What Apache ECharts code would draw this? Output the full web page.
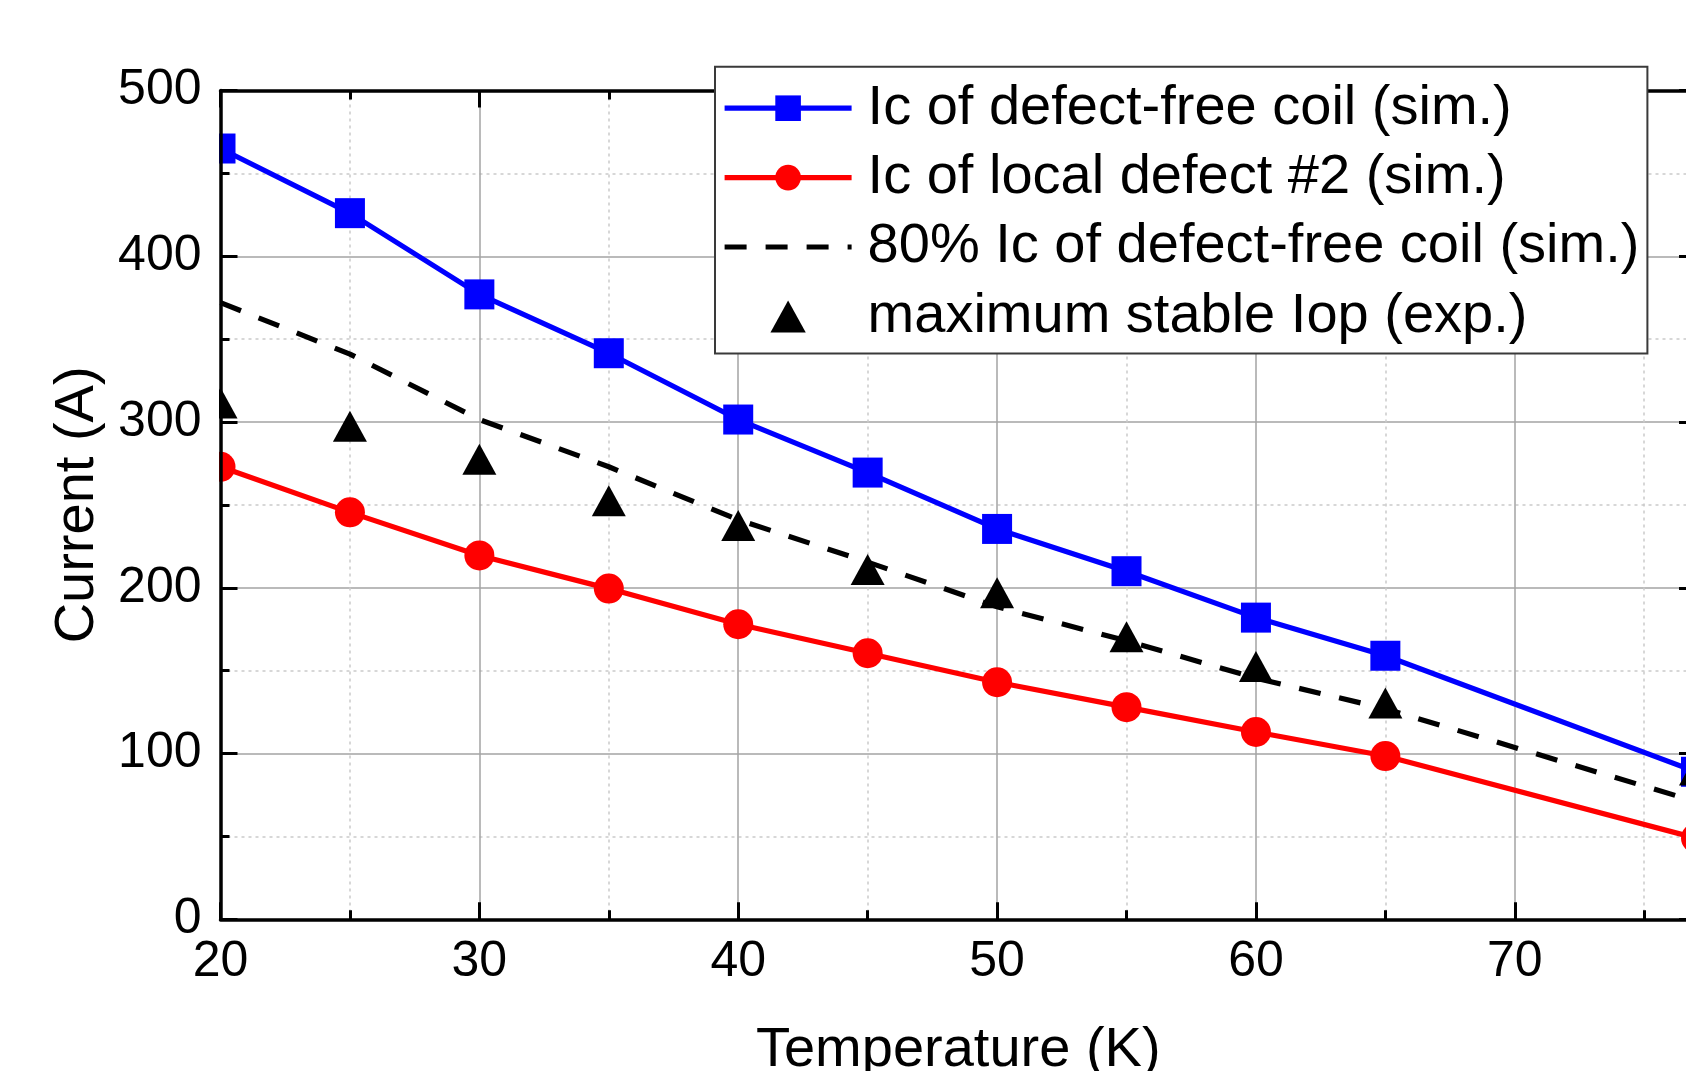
<!DOCTYPE html>
<html><head><meta charset="utf-8">
<script src="https://cdn.jsdelivr.net/npm/echarts@6/dist/echarts.min.js"></script>
<style>html,body{margin:0;padding:0;background:#fff}#c{width:1686px;height:1071px}</style>
</head><body><div id="c"></div>
<script>
// ---- data ----
const temperatures = [20, 25, 30, 35, 40, 45, 50, 55, 60, 65, 77];
const icDefectFree = [465, 426, 377, 341.5, 301.5, 269.5, 235.5, 210, 182, 159, 89];
const icLocalDefect2 = [273, 245.5, 219.5, 199.5, 178, 160.5, 143, 128, 113, 98.5, 49];
const ic80DefectFree = [372, 341, 301.5, 273, 241, 215.5, 188.5, 168, 145.5, 127, 71];
const maxStableIop = [311.5, 297.5, 277.5, 252.5, 237.5, 211, 197, 170.5, 152.5, 130.5, 90];
const seriesNames = [
  'Ic of defect-free coil (sim.)',
  'Ic of local defect #2 (sim.)',
  '80% Ic of defect-free coil (sim.)',
  'maximum stable Iop (exp.)'
];
const xTitle = 'Temperature (K)';
const yTitle = 'Current (A)';

const FONT = '"Liberation Sans", Arial, sans-serif';
const LW = 5.2;
const TRI = 'path://M16,0 L32,29 L0,29 Z';
const pairs = ys => temperatures.map((t, i) => [t, ys[i]]);

const chart = echarts.init(document.getElementById('c'), null, {renderer: 'canvas'});

const tickStyle = {color: '#000', width: 3};
const axisLineStyle = {color: '#000', width: 3.5};

const xBase = {type: 'value', min: 20, max: 77, interval: 10, gridIndex: 0};
const yBase = {type: 'value', min: 0, max: 500, interval: 100, gridIndex: 0};

const option = {
  animation: false,
  backgroundColor: '#fff',
  grid: {left: 220.5, top: 90.5, right: -10, bottom: 151.7, containLabel: false, outerBoundsMode: 'none'},
  xAxis: [
    Object.assign({}, xBase, {
      position: 'bottom', z: 0,
      axisLine: {show: false}, axisTick: {show: false}, axisLabel: {show: false},
      minorTick: {show: false, splitNumber: 2},
      splitLine: {show: true, lineStyle: {color: '#a3a3a3', width: 1.5}},
      minorSplitLine: {show: true, lineStyle: {color: '#cacaca', width: 1.5, type: [3, 4]}}
    }),
    Object.assign({}, xBase, {
      position: 'bottom', z: 10,
      name: xTitle, nameLocation: 'middle', nameGap: 103, nameMoveOverlap: false,
      nameTextStyle: {fontSize: 56, lineHeight: 56, color: '#000', fontFamily: FONT},
      axisLine: {show: true, onZero: false, lineStyle: axisLineStyle},
      axisTick: {show: true, inside: true, length: 17, lineStyle: tickStyle},
      minorTick: {show: true, splitNumber: 2, length: 9, lineStyle: tickStyle},
      axisLabel: {show: true, fontSize: 50, lineHeight: 50, color: '#000', margin: 18, fontFamily: FONT, showMaxLabel: false},
      splitLine: {show: false}
    }),
    Object.assign({}, xBase, {
      position: 'top', z: 10,
      axisLine: {show: true, onZero: false, lineStyle: axisLineStyle},
      axisTick: {show: true, inside: true, length: 17, lineStyle: tickStyle},
      minorTick: {show: true, splitNumber: 2, length: 9, lineStyle: tickStyle},
      axisLabel: {show: false},
      splitLine: {show: false}
    })
  ],
  yAxis: [
    Object.assign({}, yBase, {
      position: 'left', z: 0,
      axisLine: {show: false}, axisTick: {show: false}, axisLabel: {show: false},
      minorTick: {show: false, splitNumber: 2},
      splitLine: {show: true, lineStyle: {color: '#a3a3a3', width: 1.5}},
      minorSplitLine: {show: true, lineStyle: {color: '#cacaca', width: 1.5, type: [3, 4]}}
    }),
    Object.assign({}, yBase, {
      position: 'left', z: 10,
      name: yTitle, nameLocation: 'middle', nameGap: 115, nameMoveOverlap: false,
      nameTextStyle: {fontSize: 56, lineHeight: 56, color: '#000', fontFamily: FONT},
      axisLine: {show: true, onZero: false, lineStyle: axisLineStyle},
      axisTick: {show: true, inside: true, length: 17, lineStyle: tickStyle},
      minorTick: {show: true, splitNumber: 2, length: 9, lineStyle: tickStyle},
      axisLabel: {show: true, fontSize: 50, lineHeight: 50, color: '#000', margin: 19, fontFamily: FONT},
      splitLine: {show: false}
    }),
    Object.assign({}, yBase, {
      position: 'right', z: 10,
      axisLine: {show: true, onZero: false, lineStyle: axisLineStyle},
      axisTick: {show: true, inside: true, length: 17, lineStyle: tickStyle},
      minorTick: {show: true, splitNumber: 2, length: 9, lineStyle: tickStyle},
      axisLabel: {show: false},
      splitLine: {show: false}
    })
  ],
  legend: {
    show: true, orient: 'vertical', left: 715, top: 66.7,
    itemWidth: 127, itemHeight: 32, itemGap: 13.4,
    padding: [13.5, 8, 9, 7], backgroundColor: '#fff',
    borderColor: '#3a3a3a', borderWidth: 2, borderRadius: 0,
    selectedMode: false, z: 20, symbolKeepAspect: true,
    textStyle: {fontSize: 56, lineHeight: 56, color: '#000', fontFamily: FONT, padding: [0, 0, 0, 11]},
    data: [
      {name: seriesNames[0], lineStyle: {width: LW}},
      {name: seriesNames[1], lineStyle: {width: LW}},
      {name: seriesNames[2], lineStyle: {width: LW, type: [22, 19]}, itemStyle: {opacity: 0, color: 'rgba(0,0,0,0)'}},
      {name: seriesNames[3], icon: TRI, itemStyle: {color: '#000', opacity: 1}}
    ]
  },
  series: [
    {
      name: seriesNames[0], type: 'line', xAxisIndex: 0, yAxisIndex: 0,
      data: pairs(icDefectFree), symbol: 'rect', symbolSize: 30, showSymbol: true,
      color: '#0000ff', lineStyle: {color: '#0000ff', width: LW}, itemStyle: {color: '#0000ff'},
      clip: false, z: 3
    },
    {
      name: seriesNames[1], type: 'line', xAxisIndex: 0, yAxisIndex: 0,
      data: pairs(icLocalDefect2), symbol: 'circle', symbolSize: 30, showSymbol: true,
      color: '#ff0000', lineStyle: {color: '#ff0000', width: LW}, itemStyle: {color: '#ff0000'},
      clip: false, z: 3
    },
    {
      name: seriesNames[2], type: 'line', xAxisIndex: 0, yAxisIndex: 0,
      data: pairs(ic80DefectFree), symbol: 'none', showSymbol: false,
      color: '#000', lineStyle: {color: '#000', width: LW, type: [22, 19]},
      clip: false, z: 2
    },
    {
      name: seriesNames[3], type: 'scatter', xAxisIndex: 0, yAxisIndex: 0,
      data: pairs(maxStableIop), symbol: 'triangle', symbolSize: [34, 31],
      color: '#000', itemStyle: {color: '#000', opacity: 1}, clip: false, z: 4
    }
  ]
};
chart.setOption(option);

// mask left of the plot frame so markers on the left edge are clipped like the original
const leftPx = chart.convertToPixel({xAxisIndex: 0}, 20);
chart.setOption({
  graphic: [{
    type: 'rect', left: 0, top: 0, z: 5,
    shape: {width: leftPx - 1.5, height: 1071},
    style: {fill: '#fff'}, silent: true
  }]
});
</script>
</body></html>
